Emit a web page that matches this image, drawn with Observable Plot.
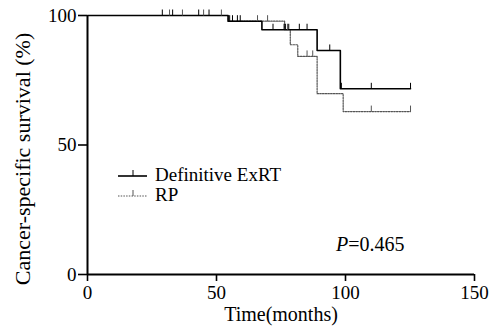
<!DOCTYPE html>
<html><head><meta charset="utf-8">
<script src="https://cdn.jsdelivr.net/npm/d3@7"></script>
<script src="https://cdn.jsdelivr.net/npm/@observablehq/plot@0.6"></script>
<style>body{margin:0;background:#fff} svg text{font-family:'Liberation Serif','Times New Roman',serif}</style>
</head><body><div id="chart"></div>
<script>
// Kaplan-Meier step points (time in months, survival %)
const exrtTime = [0, 54.5, 67.6, 89.0, 98.0, 125.2];
const exrtSurv = [100, 97.8, 94.5, 86.5, 71.7, 71.7];
const rpTime = [0, 54.5, 76.4, 78.6, 81.5, 89.0, 99.1, 125.2];
const rpSurv = [100, 97.8, 94.5, 88.7, 84.2, 69.8, 62.9, 62.9];
// Censored observations
const exrtCensorTime = [29.0, 33.0, 43.1, 47.1, 55.1, 56.2, 58.1, 59.2, 71.9, 76.2, 76.7, 78.0, 82.1, 85.1, 93.9, 98.4, 110, 125.2];
const exrtCensorSurv = [100, 100, 100, 100, 97.8, 97.8, 97.8, 97.8, 94.5, 94.5, 94.5, 94.5, 94.5, 94.5, 86.5, 71.7, 71.7, 71.7];
const rpCensorTime = [31.8, 36.8, 45.0, 51.9, 65.9, 69.8, 77.5, 85.1, 87.3, 110, 125.2];
const rpCensorSurv = [100, 100, 100, 100, 97.8, 97.8, 94.5, 84.2, 84.2, 62.9, 62.9];
const xTicks = [0, 50, 100, 150];
const yTicks = [0, 50, 100];
const seriesNames = ["Definitive ExRT", "RP"];
const xLabel = "Time(months)";
const yLabel = "Cancer-specific survival (%)";
const pLabel = "P";
const pValue = "=0.465";

const exrt = exrtTime.map((t, i) => ({t, s: exrtSurv[i]}));
const rp = rpTime.map((t, i) => ({t, s: rpSurv[i]}));
const exrtC = exrtCensorTime.map((t, i) => ({t, s: exrtCensorSurv[i]}));
const rpC = rpCensorTime.map((t, i) => ({t, s: rpCensorSurv[i]}));

const censorSymbol = {draw(ctx) { ctx.moveTo(0, 0); ctx.lineTo(0, -6); }};
const FONT = "'Liberation Serif', 'Times New Roman', serif";
const DOT_COLOR = "#555";
const DASH = "1.5,1.2";

const chart = Plot.plot({
  width: 491, height: 332,
  marginLeft: 87, marginRight: 17, marginTop: 15, marginBottom: 58,
  x: {domain: [0, 150]},
  y: {domain: [0, 100]},
  style: {fontFamily: FONT, fontSize: "19px", color: "black", background: "white"},
  marks: [
    Plot.axisX({ticks: xTicks, tickSize: 7, tickPadding: 4, strokeWidth: 1.6, label: null, fontFamily: FONT, fontSize: 19}),
    Plot.axisY({ticks: yTicks, tickSize: 9, tickPadding: 2, strokeWidth: 1.6, label: null, fontFamily: FONT, fontSize: 19}),
    Plot.ruleX([0], {strokeWidth: 2}),
    Plot.ruleY([0], {strokeWidth: 2}),
    Plot.line(rp, {x: "t", y: "s", curve: "step-after", stroke: DOT_COLOR, strokeWidth: 1.2, strokeDasharray: DASH}),
    Plot.line(exrt, {x: "t", y: "s", curve: "step-after", stroke: "black", strokeWidth: 1.6}),
    Plot.dot(rpC, {x: "t", y: "s", symbol: censorSymbol, r: 3, fill: "none", stroke: DOT_COLOR, strokeWidth: 1}),
    Plot.dot(exrtC, {x: "t", y: "s", symbol: censorSymbol, r: 3, fill: "none", stroke: "black", strokeWidth: 1}),
    Plot.text([xLabel], {text: d => d, frameAnchor: "bottom", dy: 46, fontSize: 20, fontFamily: FONT}),
    Plot.text([yLabel], {text: d => d, frameAnchor: "left", textAnchor: "middle", rotate: -90, dx: -65, dy: 14, fontSize: 22, fontFamily: FONT})
  ]
});
document.getElementById("chart").appendChild(chart);

// Legend and annotation
const svg = d3.select(chart);
const lg = svg.append("g").attr("font-family", FONT).attr("font-size", 19).attr("text-anchor", "start");
const legendItems = [
  {name: seriesNames[0], y: 176, stroke: "black", dash: null, w: 1.6},
  {name: seriesNames[1], y: 196, stroke: DOT_COLOR, dash: DASH, w: 1.2}
];
legendItems.forEach(it => {
  lg.append("line").attr("x1", 118).attr("x2", 147).attr("y1", it.y).attr("y2", it.y)
    .attr("stroke", it.stroke).attr("stroke-width", it.w).attr("stroke-dasharray", it.dash);
  lg.append("line").attr("x1", 133).attr("x2", 133).attr("y1", it.y).attr("y2", it.y - 6)
    .attr("stroke", it.stroke).attr("stroke-width", 1);
  lg.append("text").attr("x", 155).attr("y", it.y - 2).attr("dy", "0.35em").attr("fill", "black")
    .attr("text-anchor", "start").text(it.name);
});
const pt = svg.append("text").attr("x", 336).attr("y", 243.5).attr("dy", "0.35em")
  .attr("font-family", FONT).attr("font-size", 20).attr("fill", "black").attr("text-anchor", "start");
pt.append("tspan").attr("font-style", "italic").text(pLabel);
pt.append("tspan").text(pValue);
</script>
</body></html>
